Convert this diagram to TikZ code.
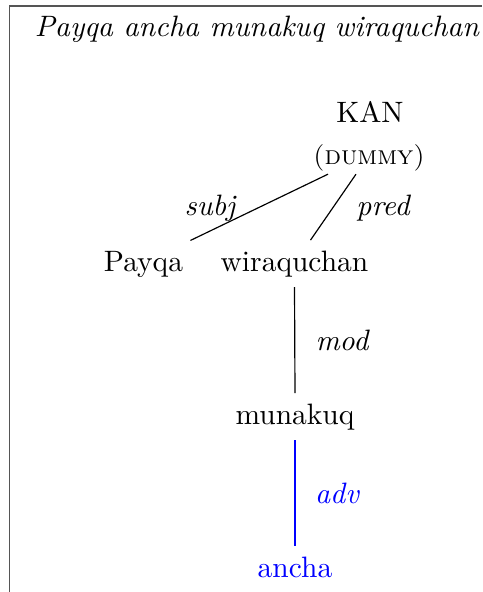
\documentclass[tikz,border=0pt]{standalone}
\usepackage[]{tikz}
\usepackage[]{xcolor}
\definecolor{frame}{HTML}{555555}
\tikzstyle{word} = [inner sep=0.333em, anchor=base]
\tikzstyle{rel} = [inner sep=0.333em, anchor=base, font=\itshape]
\tikzset{
	dep/.style={draw=black, line width=0.4pt},
	adjunct/.style={draw=blue, line width=0.4pt},
	bluetext/.style={text=blue}
	}

\begin{document}
\begin{tikzpicture}[x=0.339pt, y=-0.339pt]
	\useasboundingbox (0,0) rectangle (482,592);
	\draw[frame, line width=0.55pt] (9.5,592) -- (9.5,6) -- (482,6);

	\node [rel] (title) at (257,37) {Payqa ancha munakuq wiraquchan};
	\node [word] (kan) at (370,123) {KAN};
	\node [word, inner sep=1pt, font=\small] (dummy) at (369,164) {\textsc{(dummy)}};
	\node [word] (payqa) at (143.5,271) {Payqa};
	\node [word] (wira) at (294.5,271) {wiraquchan};
	\node [word] (munakuq) at (295,424) {munakuq};
	\node [word, bluetext] (ancha) at (295,577) {ancha};

	\node [rel] (subj) at (210,215) {subj};
	\node [rel] (pred) at (383,215) {pred};
	\node [rel] (mod) at (342,350) {mod};
	\node [rel, bluetext] (adv) at (337,503) {adv};

	\draw[dep] ([shift={(-41,0)}]dummy.south) -- ([shift={(-3,0)}]payqa.north east);
	\draw[dep] ([shift={(-13,0)}]dummy.south) -- ([shift={(16,0)}]wira.north);
	\draw[dep] (wira.south) -- (munakuq.north);
	\draw[adjunct] (munakuq.south) -- (ancha.north);
\end{tikzpicture}
\end{document}
